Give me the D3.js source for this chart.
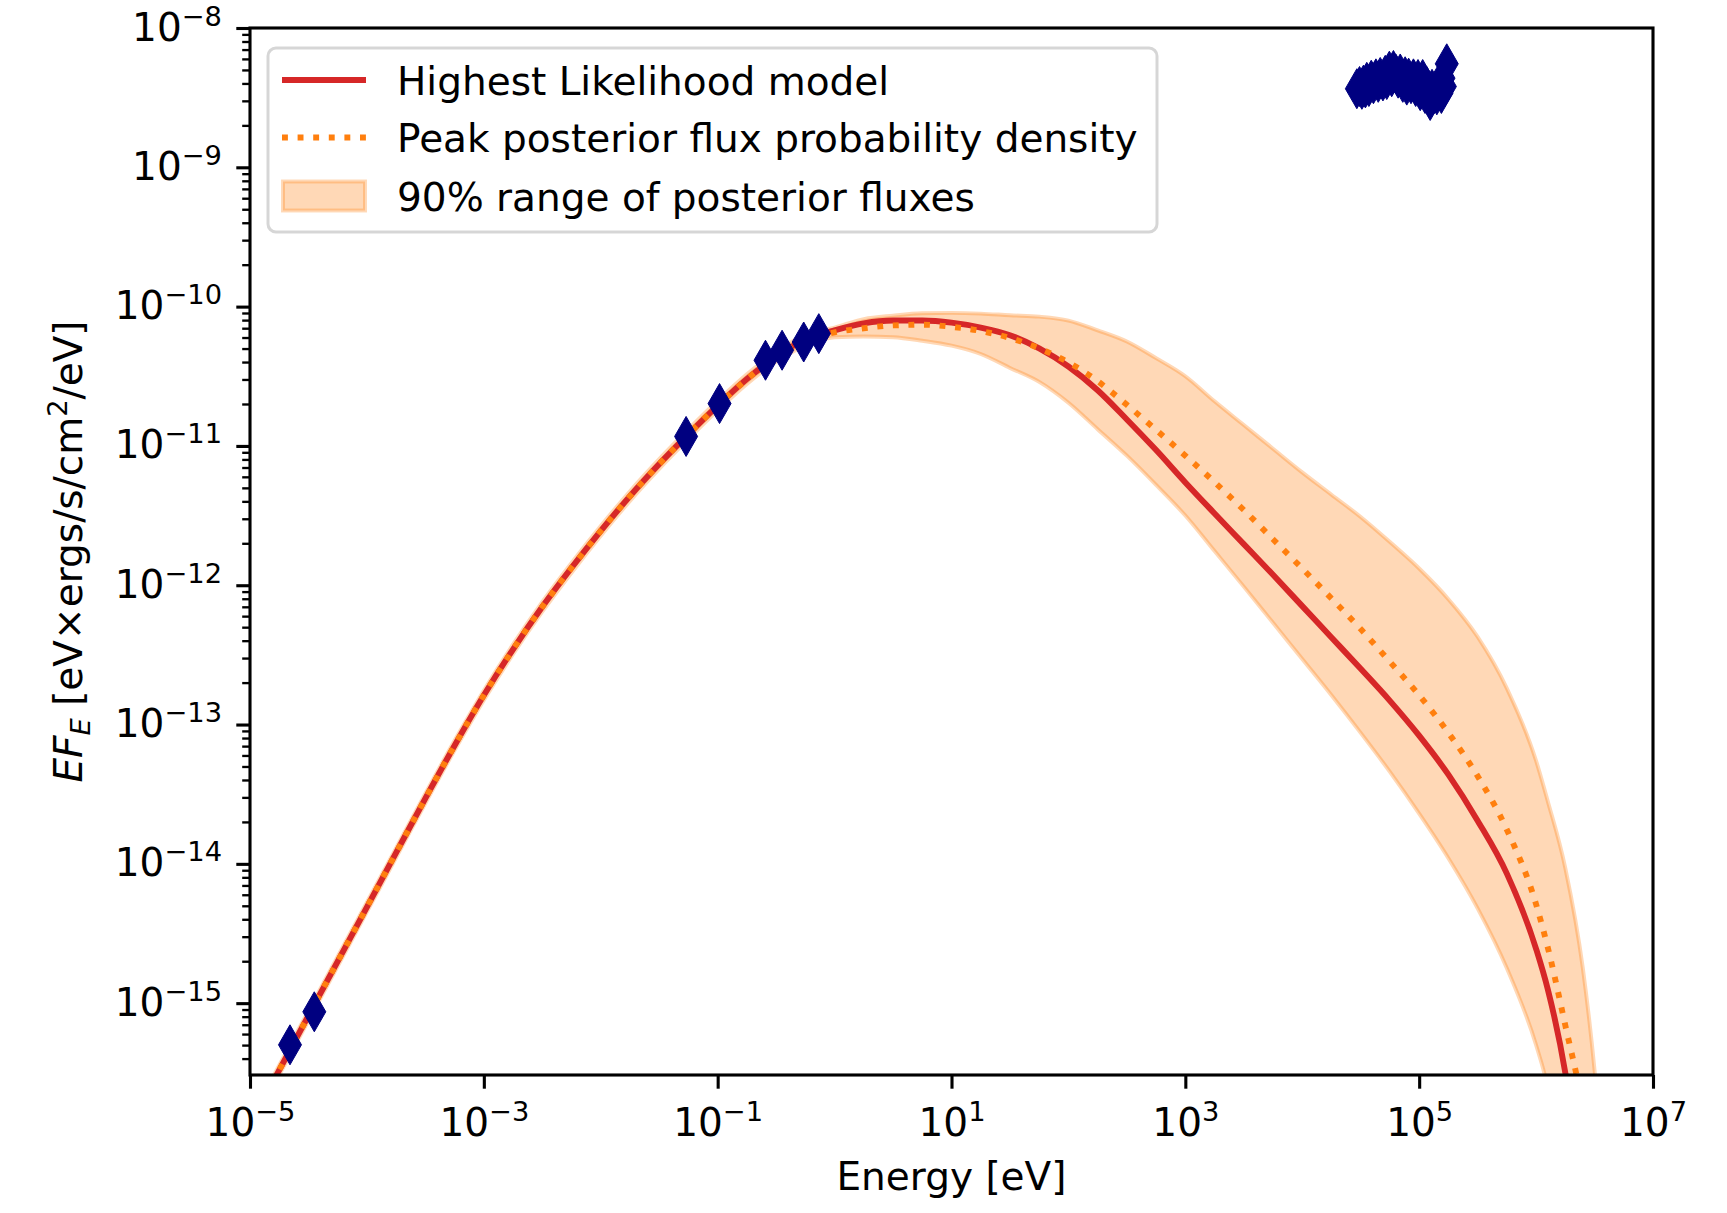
<!DOCTYPE html>
<html>
<head>
<meta charset="utf-8">
<script src="https://cdn.jsdelivr.net/npm/d3@7"></script>
<style>
  body { margin: 0; background: #fff; }
  svg text { font-family: "DejaVu Sans", sans-serif; fill: #000; }
</style>
</head>
<body>
<script>
// log10 of energy [eV] on which the model curves are sampled
var logEnergy = [-5, -4.75, -4.5, -4.25, -4, -3.75, -3.5, -3.25, -3, -2.75, -2.5, -2.25, -2, -1.75, -1.5, -1.25,
  -1, -0.75, -0.5, -0.25, 0, 0.25, 0.5, 0.75, 1, 1.25, 1.5, 1.75, 2, 2.25, 2.5, 2.75, 3, 3.25, 3.5, 3.75,
  4, 4.25, 4.5, 4.75, 5, 5.25, 5.5, 5.75, 6, 6.1, 6.25, 6.4, 6.5, 6.6, 6.75]

// log10 of E*F_E, highest likelihood model
var logFluxML = [-15.87, -15.48, -15.09, -14.70, -14.31, -13.92, -13.53, -13.15, -12.79, -12.46, -12.155, -11.875, -11.61, -11.36, -11.13, -10.915,
  -10.71, -10.52, -10.36, -10.235, -10.17, -10.12, -10.10, -10.10, -10.115, -10.15, -10.205, -10.30, -10.43, -10.60, -10.81, -11.03, -11.262, -11.485, -11.705, -11.925,
  -12.15, -12.375, -12.60, -12.83, -13.08, -13.36, -13.69, -14.07, -14.61, -14.90, -15.50, -16.4, -17.2, -18.0, -19.0]

// log10 of E*F_E, peak of posterior flux density
var logFluxPeak = [-15.87, -15.48, -15.09, -14.70, -14.31, -13.92, -13.53, -13.15, -12.79, -12.46, -12.155, -11.875, -11.61, -11.36, -11.13, -10.915,
  -10.71, -10.52, -10.36, -10.245, -10.185, -10.155, -10.135, -10.13, -10.145, -10.175, -10.225, -10.30, -10.40, -10.535, -10.705, -10.885, -11.07, -11.26, -11.46, -11.67,
  -11.88, -12.095, -12.315, -12.55, -12.79, -13.06, -13.37, -13.755, -14.29, -14.60, -15.16, -15.75, -16.3, -17.0, -18.0]

// 90% range of posterior fluxes
var logFluxLow = [-15.905, -15.515, -15.125, -14.735, -14.345, -13.955, -13.565, -13.185, -12.825, -12.495, -12.19, -11.91, -11.645, -11.395, -11.165, -10.95,
  -10.745, -10.555, -10.395, -10.28, -10.22, -10.215, -10.22, -10.245, -10.28, -10.34, -10.44, -10.54, -10.69, -10.88, -11.07, -11.28, -11.50, -11.755, -12.01, -12.27,
  -12.53, -12.79, -13.06, -13.34, -13.64, -13.96, -14.32, -14.75, -15.30, -15.6, -16.3, -17.0, -17.6, -18.2, -19.0]
var logFluxHigh = [-15.835, -15.445, -15.055, -14.665, -14.275, -13.885, -13.495, -13.115, -12.755, -12.425, -12.12, -11.84, -11.575, -11.325, -11.095, -10.88,
  -10.675, -10.485, -10.325, -10.20, -10.15, -10.09, -10.065, -10.048, -10.045, -10.05, -10.062, -10.072, -10.10, -10.17, -10.25, -10.37, -10.50, -10.68, -10.85, -11.02,
  -11.19, -11.35, -11.51, -11.69, -11.88, -12.10, -12.37, -12.74, -13.26, -13.55, -14.03, -14.75, -15.48, -16.5, -18.0]

// observed points (log10 E, log10 EF_E)
var obsLogE = [-4.658, -4.450, -1.270, -0.984, -0.591, -0.449, -0.264, -0.135,
  4.467, 4.49, 4.51, 4.524, 4.54, 4.552, 4.57, 4.59, 4.609, 4.63, 4.65, 4.667, 4.69, 4.71, 4.723, 4.745, 4.765, 4.78,
  4.80, 4.82, 4.838, 4.86, 4.88, 4.894, 4.91, 4.93, 4.951, 4.97, 4.99, 5.009, 5.03, 5.05, 5.065, 5.08, 5.094, 5.11,
  5.13, 5.151, 5.17, 5.19, 5.208, 5.22, 5.236]
var obsLogF = [-15.299, -15.062, -10.932, -10.696, -10.385, -10.313, -10.254, -10.194,
  -8.436, -8.42, -8.44, -8.41, -8.43, -8.39, -8.42, -8.375, -8.40, -8.365, -8.39, -8.355, -8.38, -8.34, -8.37, -8.31, -8.35, -8.305,
  -8.33, -8.36, -8.33, -8.39, -8.35, -8.41, -8.36, -8.40, -8.365, -8.42, -8.37, -8.45, -8.37, -8.47, -8.42, -8.49, -8.52, -8.44,
  -8.47, -8.48, -8.40, -8.47, -8.36, -8.42, -8.257]

var xMajorExp = [-5, -3, -1, 1, 3, 5, 7]
var yMajorExp = [-8, -9, -10, -11, -12, -13, -14, -15]
var legendLabels = ["Highest Likelihood model", "Peak posterior flux probability density", "90% range of posterior fluxes"]

var width = 1727, height = 1213
var padL = 250, padR = 1653, padT = 28, padB = 1075
var fs = 39
var red = "#d62728", orange = "#ff7f0e", navy = "#000080"

var x = d3.scaleLog().domain([1e-5, 1e7]).range([padL, padR])
var y = d3.scaleLog().domain([3.05e-16, 1e-8]).range([padB, padT])

var svg = d3.select("body").append("svg")
  .attr("width", width)
  .attr("height", height)

svg.append("clipPath").attr("id", "plot")
  .append("rect")
  .attr("x", padL).attr("y", padT)
  .attr("width", padR - padL).attr("height", padB - padT)

var rows = logEnergy.map(function (e, i) {
  return { e: Math.pow(10, e), ml: Math.pow(10, logFluxML[i]), pk: Math.pow(10, logFluxPeak[i]),
    lo: Math.pow(10, logFluxLow[i]), hi: Math.pow(10, logFluxHigh[i]) }
})

var plot = svg.append("g").attr("clip-path", "url(#plot)")

var band = d3.area()
  .x(function (d) { return x(d.e) })
  .y0(function (d) { return y(d.lo) })
  .y1(function (d) { return y(d.hi) })
  .curve(d3.curveMonotoneX)

plot.append("path")
  .datum(rows)
  .attr("d", band)
  .attr("fill", orange).attr("fill-opacity", 0.3)
  .attr("stroke", orange).attr("stroke-opacity", 0.3).attr("stroke-width", 3.9)

function curve(key) {
  return d3.line()
    .x(function (d) { return x(d.e) })
    .y(function (d) { return y(d[key]) })
    .curve(d3.curveMonotoneX)
}

plot.append("path")
  .datum(rows)
  .attr("d", curve("ml"))
  .attr("fill", "none").attr("stroke", red).attr("stroke-width", 5.9)

plot.append("path")
  .datum(rows)
  .attr("d", curve("pk"))
  .attr("fill", "none").attr("stroke", orange).attr("stroke-width", 5.9)
  .attr("stroke-dasharray", "5.9 9.7")

plot.selectAll(".obs")
  .data(obsLogE.map(function (e, i) { return [Math.pow(10, e), Math.pow(10, obsLogF[i])] }))
  .enter().append("path")
  .attr("class", "obs")
  .attr("transform", function (d) { return "translate(" + x(d[0]) + "," + y(d[1]) + ")" })
  .attr("d", "M0,-20L11.5,0L0,20L-11.5,0Z")
  .attr("fill", navy).attr("stroke", navy).attr("stroke-width", 1)

// tick label as 10^n
function powLabel(text, exp) {
  text.text(null)
  text.append("tspan").text("10")
  text.append("tspan").attr("dy", -15).attr("font-size", 27.3)
    .text((exp < 0 ? "\u2212" : "") + Math.abs(exp))
}

// y minor ticks
var yMinor = []
for (var n = -16; n <= -9; n++) {
  for (var k = 2; k <= 9; k++) {
    var v = k * Math.pow(10, n)
    if (v >= 3.05e-16 && v <= 1e-8) yMinor.push(v)
  }
}

var yMinG = svg.append("g").attr("transform", "translate(" + padL + ",0)")
  .call(d3.axisLeft(y).tickValues(yMinor).tickSize(7.8).tickSizeOuter(0).tickFormat(""))
yMinG.select(".domain").remove()
yMinG.selectAll("line").attr("stroke-width", 2.35)

var yG = svg.append("g").attr("transform", "translate(" + padL + ",0)")
  .call(d3.axisLeft(y).tickValues(yMajorExp.map(function (e) { return Math.pow(10, e) }))
    .tickSize(13.7).tickSizeOuter(0))
yG.select(".domain").remove()
yG.selectAll("line").attr("stroke-width", 3.1)
yG.selectAll("text")
  .attr("x", -28).attr("y", 12).attr("dy", null)
  .attr("font-size", fs).attr("font-family", null)
  .each(function (d) { powLabel(d3.select(this), Math.round(Math.log10(d))) })

var xG = svg.append("g").attr("transform", "translate(0," + padB + ")")
  .call(d3.axisBottom(x).tickValues(xMajorExp.map(function (e) { return Math.pow(10, e) }))
    .tickSize(13.7).tickSizeOuter(0))
xG.select(".domain").remove()
xG.selectAll("line").attr("stroke-width", 3.1)
xG.selectAll("text")
  .attr("y", 61).attr("dy", null)
  .attr("font-size", fs).attr("font-family", null)
  .each(function (d) { powLabel(d3.select(this), Math.round(Math.log10(d))) })

// spines
svg.append("rect")
  .attr("x", padL).attr("y", padT)
  .attr("width", padR - padL).attr("height", padB - padT)
  .attr("fill", "none").attr("stroke", "#000").attr("stroke-width", 3.1)

// axis titles
svg.append("text")
  .attr("x", (padL + padR) / 2).attr("y", 1190)
  .attr("text-anchor", "middle").attr("font-size", fs)
  .text("Energy [eV]")

var yl = svg.append("text")
  .attr("transform", "translate(82," + (padT + padB) / 2 + ") rotate(-90)")
  .attr("text-anchor", "middle").attr("font-size", fs)
yl.append("tspan").attr("font-style", "italic").text("EF")
yl.append("tspan").attr("font-style", "italic").attr("font-size", 27.3).attr("dy", 8).text("E")
yl.append("tspan").attr("dy", -8).text(" [eV\u00d7ergs/s/cm")
yl.append("tspan").attr("font-size", 27.3).attr("dy", -15).text("2")
yl.append("tspan").attr("dy", 15).text("/eV]")

// legend
var lg = svg.append("g")
lg.append("rect")
  .attr("x", 268).attr("y", 48).attr("width", 889).attr("height", 184)
  .attr("rx", 8).attr("ry", 8)
  .attr("fill", "#fff").attr("fill-opacity", 0.8)
  .attr("stroke", "#cccccc").attr("stroke-opacity", 0.8).attr("stroke-width", 3)

var rowY = [80, 137.5, 196]
lg.append("line")
  .attr("x1", 282).attr("x2", 366).attr("y1", rowY[0]).attr("y2", rowY[0])
  .attr("stroke", red).attr("stroke-width", 5.9)
lg.append("line")
  .attr("x1", 282).attr("x2", 366).attr("y1", rowY[1]).attr("y2", rowY[1])
  .attr("stroke", orange).attr("stroke-width", 5.9).attr("stroke-dasharray", "5.9 9.7")
lg.append("rect")
  .attr("x", 283).attr("y", rowY[2] - 14.5).attr("width", 82).attr("height", 29)
  .attr("fill", orange).attr("fill-opacity", 0.3)
  .attr("stroke", orange).attr("stroke-opacity", 0.3).attr("stroke-width", 3.9)

lg.selectAll(".lgtext")
  .data(legendLabels)
  .enter().append("text")
  .attr("class", "lgtext")
  .attr("x", 397)
  .attr("y", function (d, i) { return rowY[i] + 14.5 })
  .attr("font-size", fs)
  .text(function (d) { return d })
</script>
</body>
</html>
